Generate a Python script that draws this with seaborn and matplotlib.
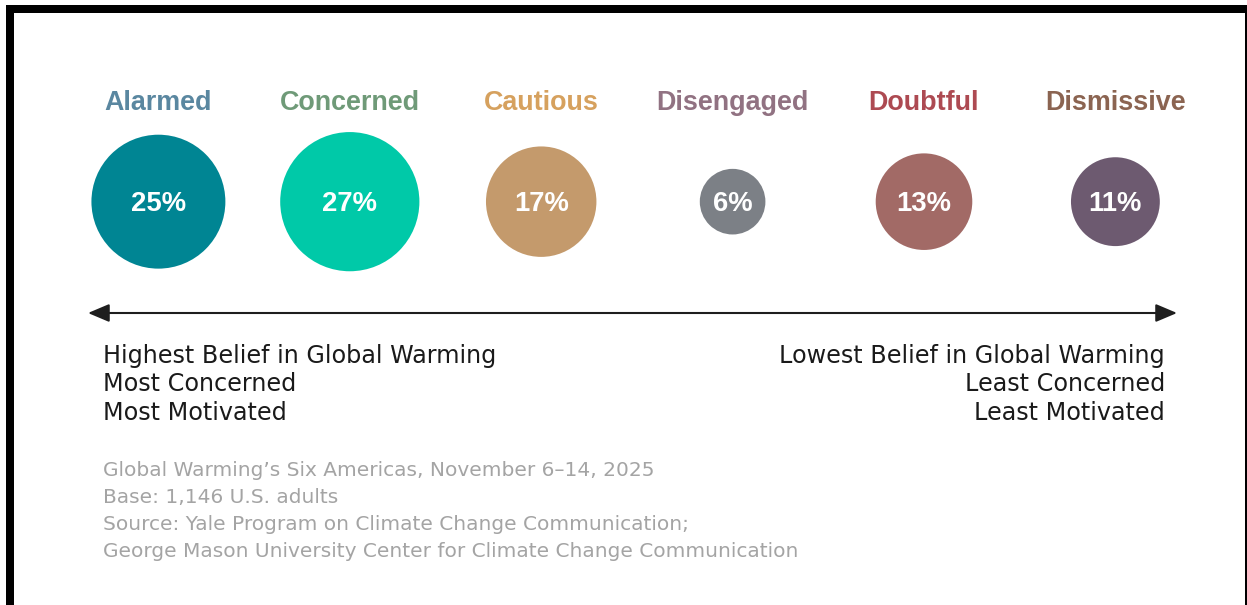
import matplotlib
matplotlib.use("Agg")
import matplotlib.pyplot as plt
from matplotlib.patches import Rectangle
import seaborn as sns
import pandas as pd

# ---- data ----
categories = ["Alarmed", "Concerned", "Cautious", "Disengaged", "Doubtful", "Dismissive"]
percents = [25, 27, 17, 6, 13, 11]
circle_colors = ["#008593", "#00c9a8", "#c49a6c", "#7c8086", "#a26a66", "#6d5a70"]
label_colors = ["#5a87a0", "#6f9a78", "#d6a15e", "#917282", "#ad4a52", "#8b6451"]
left_lines = ["Highest Belief in Global Warming", "Most Concerned", "Most Motivated"]
right_lines = ["Lowest Belief in Global Warming", "Least Concerned", "Least Motivated"]
footer_lines = [
    "Global Warming\u2019s Six Americas, November 6\u201314, 2025",
    "Base: 1,146 U.S. adults",
    "Source: Yale Program on Climate Change Communication;",
    "George Mason University Center for Climate Change Communication",
]

W, H = 1247, 605
sns.set_theme(style="white")
plt.rcParams["font.family"] = ["Liberation Sans", "DejaVu Sans"]

fig = plt.figure(figsize=(W / 100, H / 100), dpi=100)
fig.patch.set_facecolor("white")
ax = fig.add_axes([0, 0, 1, 1])


def fx(px):
    return px / W


def fy(px):
    return 1 - px / H


df = pd.DataFrame({"category": categories, "percent": percents})
pmax = max(percents)
sns.scatterplot(
    data=df, x="category", y=[0] * len(categories), hue="category",
    palette=dict(zip(categories, circle_colors)),
    size="percent", size_norm=(0, pmax), sizes=(0, 372 * pmax),
    linewidth=0, legend=False, ax=ax,
)

# map category positions onto the canvas
x0 = -158.4 / 191.4
ax.set_xlim(x0, x0 + W / 191.4)
ax.set_ylim(-2, 1)
ax.set_axis_off()

xt = ax.get_xaxis_transform()
for i, (cat, p, lc) in enumerate(zip(categories, percents, label_colors)):
    ax.text(i, fy(109.5), cat, transform=xt, ha="center", va="baseline",
            fontsize=19.4, fontweight="bold", color=lc)
    ax.text(i, fy(211), f"{p}%", transform=xt, ha="center", va="baseline",
            fontsize=19.8, fontweight="bold", color="white")

# double arrow
ax.annotate("", xy=(fx(1177), fy(313)), xytext=(fx(88), fy(313)),
            xycoords="axes fraction", textcoords="axes fraction",
            arrowprops=dict(arrowstyle="<|-|>,head_length=13,head_width=5.5",
                            mutation_scale=1, color="#1e1e1e", lw=1.5,
                            shrinkA=0, shrinkB=0))

reg_font = ["DejaVu Sans"]
for k, (l, r) in enumerate(zip(left_lines, right_lines)):
    yb = 363 + 28.3 * k
    ax.text(fx(103), fy(yb), l, transform=ax.transAxes, ha="left", va="baseline",
            fontsize=17.2, color="#1a1a1a", family=reg_font)
    ax.text(fx(1165), fy(yb), r, transform=ax.transAxes, ha="right", va="baseline",
            fontsize=17.2, color="#1a1a1a", family=reg_font)

for k, line in enumerate(footer_lines):
    yb = 476 + 27 * k
    ax.text(fx(103), fy(yb), line, transform=ax.transAxes, ha="left", va="baseline",
            fontsize=14.5, color="#a4a4a4", family=reg_font)

# frame bands
def band(x1, y1, x2, y2):
    fig.patches.append(Rectangle((x1 / W, 1 - y2 / H), (x2 - x1) / W, (y2 - y1) / H,
                                 transform=fig.transFigure, facecolor="black",
                                 edgecolor="none", zorder=10))

band(6, 5, W, 12.7)
band(6, 5, 14, H)
band(1244.8, 5, 1246.8, H)

fig.savefig("out.png", dpi=100, facecolor="white")
